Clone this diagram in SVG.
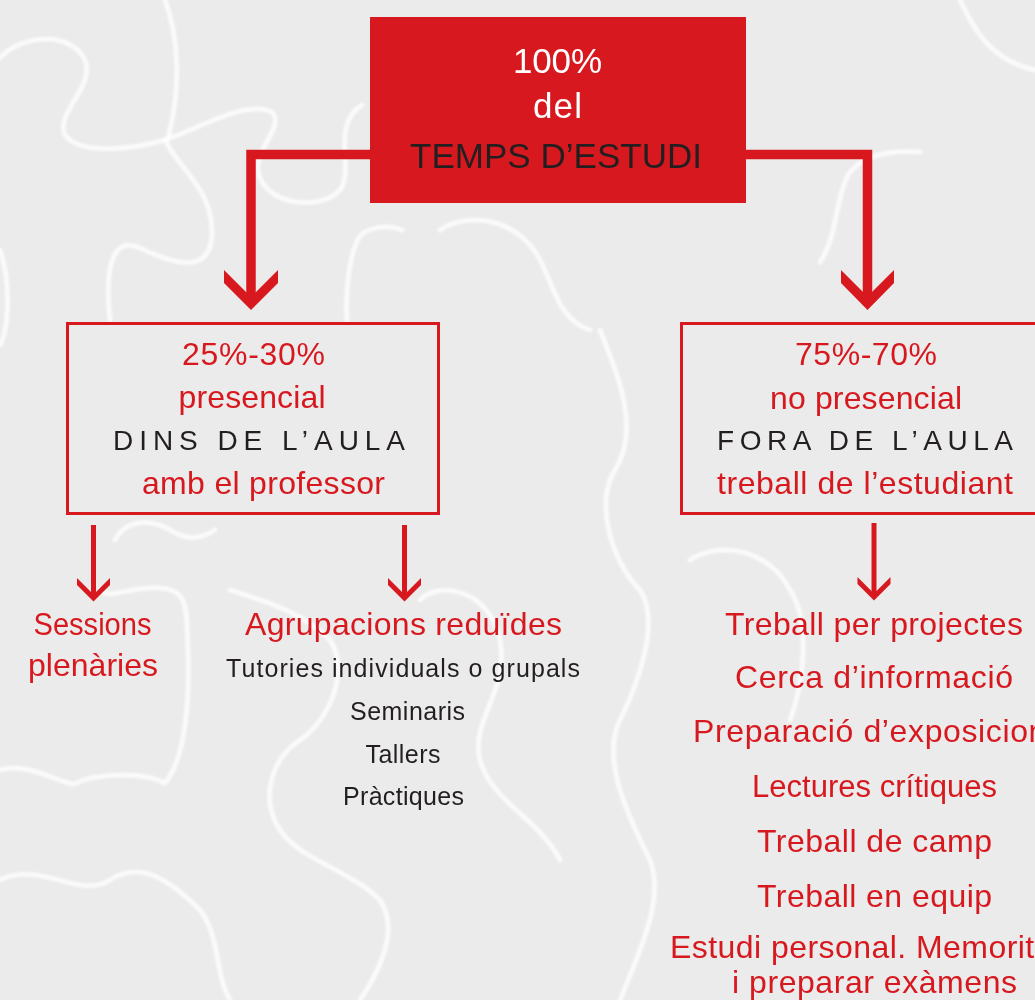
<svg xmlns="http://www.w3.org/2000/svg" width="1035" height="1000" viewBox="0 0 1035 1000">
<defs>
<style>
.bg{fill:#ebebeb}
.pz{fill:none;stroke:#ffffff;stroke-width:5;stroke-linecap:round;stroke-linejoin:round;opacity:0.75}
.t{font-family:"Liberation Sans",Arial,sans-serif;text-anchor:middle}
.red{fill:#d7191f}
.dark{fill:#231f20}
.white{fill:#ffffff}
.big{font-size:35px}
.mid{font-size:32px}
.caps{font-size:28px}
.small{font-size:25px}
.box{fill:none;stroke:#d7191f;stroke-width:3}
.line{fill:none;stroke:#d7191f;stroke-linejoin:miter}
.head{fill:#d7191f}
</style>
<filter id="soft" x="-5%" y="-5%" width="110%" height="110%">
<feGaussianBlur stdDeviation="0.9"/>
</filter>
</defs>
<rect class="bg" x="0" y="0" width="1035" height="1000"/>
<g id="background" filter="url(#soft)">
<path class="pz" d="M165,0 C178,35 182,85 168,138"/>
<path class="pz" d="M0,58 C20,35 70,30 85,60 C95,88 55,112 65,135 C80,155 130,150 165,140 C200,128 245,100 272,112 C285,125 255,150 258,170 C262,205 320,212 340,190 C355,170 330,125 362,105"/>
<path class="pz" d="M165,140 C178,168 212,188 212,232 C212,275 175,265 140,248 C110,235 105,272 110,320"/>
<path class="pz" d="M347,320 C345,290 350,240 365,232 C378,225 392,226 402,230"/>
<path class="pz" d="M920,152 C890,150 862,155 848,175 C835,200 838,235 820,262"/>
<path class="pz" d="M0,250 C12,285 8,330 0,345"/>
<path class="pz" d="M0,770 C30,760 70,790 77,783 C90,775 140,770 165,783 C185,760 190,700 188,650 C186,610 190,590 160,588 C130,586 110,600 100,590"/>
<path class="pz" d="M115,540 C125,520 150,518 170,530 C185,540 200,540 215,530"/>
<path class="pz" d="M600,330 C620,380 640,430 615,470 C595,500 610,560 640,590 C660,620 640,680 620,720 C600,760 630,820 650,860 C665,900 640,950 620,1000"/>
<path class="pz" d="M230,590 C260,600 300,610 330,640 C350,670 330,720 300,740 C270,760 260,800 280,830 C300,860 350,870 380,900 C400,930 380,970 360,1000"/>
<path class="pz" d="M420,600 C440,580 490,590 500,640 C510,690 470,720 480,760 C490,800 540,820 560,860"/>
<path class="pz" d="M0,880 C40,860 80,900 110,880 C140,860 170,880 200,910 C220,935 215,975 230,1000"/>
<path class="pz" d="M690,560 C720,540 770,550 790,590 C810,620 805,680 790,720"/>
<path class="pz" d="M960,0 C975,30 990,60 1035,70"/>
<path class="pz" d="M440,230 C470,210 520,220 540,260 C555,290 560,320 590,330"/>
</g>
<g id="connectors">
<path class="line" stroke-width="9.5" d="M371,154.5 H251 V298"/>
<polygon class="head" points="224,270 251,297 278,270 278,283 251,310 224,283"/>
<path class="line" stroke-width="9.5" d="M745,154.5 H867.5 V298"/>
<polygon class="head" points="841,270 867.5,296.5 894,270 894,283 867.5,310 841,283"/>
<path class="line" stroke-width="5" d="M93.5,525 V596"/>
<polygon class="head" points="77,578 93.5,594.5 110,578 110,585 93.5,601.5 77,585"/>
<path class="line" stroke-width="5" d="M404.5,525 V596"/>
<polygon class="head" points="388,578 404.5,594.5 421,578 421,585 404.5,601.5 388,585"/>
<path class="line" stroke-width="5" d="M874,523 V596"/>
<polygon class="head" points="857.5,577 874,593.5 890.5,577 890.5,584 874,600.5 857.5,584"/>
</g>
<g id="node-total">
<rect x="370" y="17" width="376" height="186" fill="#d7191f"/>
<text class="t white big" x="557.5" y="73" textLength="89" lengthAdjust="spacing">100%</text>
<text class="t white big" x="557.5" y="118" textLength="49" lengthAdjust="spacing">del</text>
<text class="t dark" font-size="35" x="556" y="168" textLength="292" lengthAdjust="spacing">TEMPS D’ESTUDI</text>
</g>
<g id="node-presencial">
<rect class="box" x="67.5" y="323.5" width="371" height="190"/>
<text class="t red mid" x="253.5" y="365" textLength="143" lengthAdjust="spacing">25%-30%</text>
<text class="t red mid" x="252" y="408" textLength="147" lengthAdjust="spacing">presencial</text>
<text class="t dark caps" x="259" y="450" textLength="292" lengthAdjust="spacing">DINS DE L’AULA</text>
<text class="t red mid" x="263.5" y="494" textLength="243" lengthAdjust="spacing">amb el professor</text>
</g>
<g id="node-no-presencial">
<rect class="box" x="681.5" y="323.5" width="360" height="190"/>
<text class="t red mid" x="866" y="365" textLength="142" lengthAdjust="spacing">75%-70%</text>
<text class="t red mid" x="866" y="409" textLength="192" lengthAdjust="spacing">no presencial</text>
<text class="t dark caps" x="865" y="450" textLength="296" lengthAdjust="spacing">FORA DE L’AULA</text>
<text class="t red mid" x="865" y="494" textLength="296" lengthAdjust="spacing">treball de l’estudiant</text>
</g>
<g id="node-sessions">
<text class="t red" font-size="31" x="92.5" y="635" textLength="118" lengthAdjust="spacingAndGlyphs">Sessions</text>
<text class="t red mid" x="93" y="676" textLength="130" lengthAdjust="spacing">plenàries</text>
</g>
<g id="node-agrupacions">
<text class="t red mid" x="403.5" y="635" textLength="317" lengthAdjust="spacing">Agrupacions reduïdes</text>
<text class="t dark small" x="403" y="677" textLength="354" lengthAdjust="spacing">Tutories individuals o grupals</text>
<text class="t dark small" x="407.5" y="720" textLength="115" lengthAdjust="spacing">Seminaris</text>
<text class="t dark small" x="403" y="763" textLength="75" lengthAdjust="spacing">Tallers</text>
<text class="t dark small" x="403.5" y="805" textLength="121" lengthAdjust="spacing">Pràctiques</text>
</g>
<g id="node-treball">
<text class="t red mid" x="874" y="635" textLength="298" lengthAdjust="spacing">Treball per projectes</text>
<text class="t red mid" x="874" y="688" textLength="278" lengthAdjust="spacing">Cerca d’informació</text>
<text class="t red mid" x="693" y="742" style="text-anchor:start" textLength="370" lengthAdjust="spacing">Preparació d’exposicions</text>
<text class="t red" font-size="31" x="874.5" y="797" textLength="245" lengthAdjust="spacing">Lectures crítiques</text>
<text class="t red mid" x="874.5" y="852" textLength="235" lengthAdjust="spacing">Treball de camp</text>
<text class="t red mid" x="874.5" y="907" textLength="235" lengthAdjust="spacing">Treball en equip</text>
<text class="t red mid" x="670" y="958" style="text-anchor:start" textLength="410" lengthAdjust="spacing">Estudi personal. Memoritzar</text>
<text class="t red mid" x="874.5" y="993" textLength="285" lengthAdjust="spacing">i preparar exàmens</text>
</g>
</svg>
